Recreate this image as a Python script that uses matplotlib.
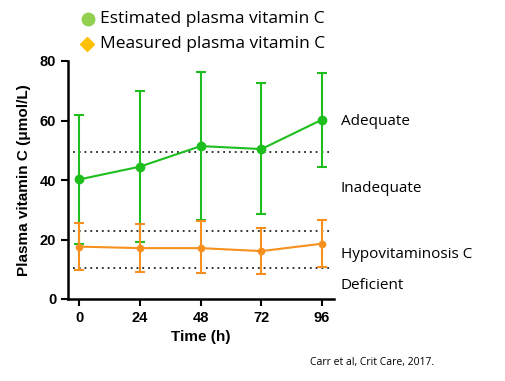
import matplotlib
matplotlib.use("Agg")
import matplotlib.pyplot as plt
from matplotlib.lines import Line2D

time_h = [0, 24, 48, 72, 96]
est_mean = [40.2, 44.5, 51.4, 50.4, 60.3]
est_upper = [62.0, 70.0, 76.3, 72.5, 76.0]
est_lower = [18.5, 19.0, 26.5, 28.5, 44.5]
meas_mean = [17.6, 17.1, 17.1, 16.1, 18.6]
meas_upper = [25.6, 25.2, 26.2, 23.8, 26.4]
meas_lower = [9.6, 9.2, 8.8, 8.3, 10.6]
thresholds = [49.5, 22.9, 10.5]
zone_labels = ["Adequate", "Inadequate", "Hypovitaminosis C", "Deficient"]
zone_label_y = [59.5, 37.0, 15.0, 4.5]
legend_labels = ["Estimated plasma vitamin C", "Measured plasma vitamin C"]

green = "#1DBE1D"
orange = "#F7901E"

fig = plt.figure(figsize=(5.05, 3.81), dpi=100)
ax = fig.add_axes([68/505, (381-299)/381, (334-68)/505, (299-61)/381])

for t in thresholds:
    ax.plot([-2.5, 100], [t, t], color="#222222", linestyle=(0, (1, 2.2)), lw=1.3, zorder=1)

def draw(mean, lo, hi, color, ms):
    yerr = [[m - l for m, l in zip(mean, lo)], [h - m for m, h in zip(mean, hi)]]
    ax.errorbar(time_h, mean, yerr=yerr, color=color, lw=1.5, elinewidth=1.5,
                capsize=3.5, capthick=1.5, marker="o", ms=ms, zorder=3)

draw(est_mean, est_lower, est_upper, green, 6)
draw(meas_mean, meas_lower, meas_upper, orange, 4.5)

ax.set_xlim(-4.5, 100.7)
ax.set_ylim(0, 80)
ax.set_xticks(time_h)
ax.set_yticks([0, 20, 40, 60, 80])
for s in ["top", "right"]:
    ax.spines[s].set_visible(False)
for s in ["left", "bottom"]:
    ax.spines[s].set_linewidth(1.8)
ax.tick_params(width=1.5, length=5, labelsize=10.5)
for lab in ax.get_xticklabels() + ax.get_yticklabels():
    lab.set_fontweight("bold")
    lab.set_fontfamily("Liberation Sans")
ax.set_xlabel("Time (h)", fontsize=11, fontweight="bold", family="Liberation Sans", labelpad=4)
ax.set_ylabel("Plasma vitamin C (\u03bcmol/L)", fontsize=11, fontweight="bold", family="Liberation Sans", labelpad=6)

for lab, y in zip(zone_labels, zone_label_y):
    ax.annotate(lab, xy=(341/505, y), xycoords=("figure fraction", "data"),
                fontsize=11, family="Open Sans", va="center", ha="left", annotation_clip=False)

# legend
fig.text(100/505, 1 - 19/381, legend_labels[0], fontsize=12.5, family="Open Sans", va="center", ha="left")
fig.text(100/505, 1 - 44/381, legend_labels[1], fontsize=12.5, family="Open Sans", va="center", ha="left")
fig.add_artist(Line2D([88/505], [1 - 19/381], marker="o", color="#92D050", ms=9, transform=fig.transFigure))
fig.add_artist(Line2D([87/505], [1 - 44/381], marker="D", color="#FFC000", ms=7.5, transform=fig.transFigure))

fig.text(310/505, 1 - 362/381, "Carr et al, Crit Care, 2017.", fontsize=7.5, family="Open Sans", va="center", ha="left")

fig.savefig("out.png", dpi=100)
